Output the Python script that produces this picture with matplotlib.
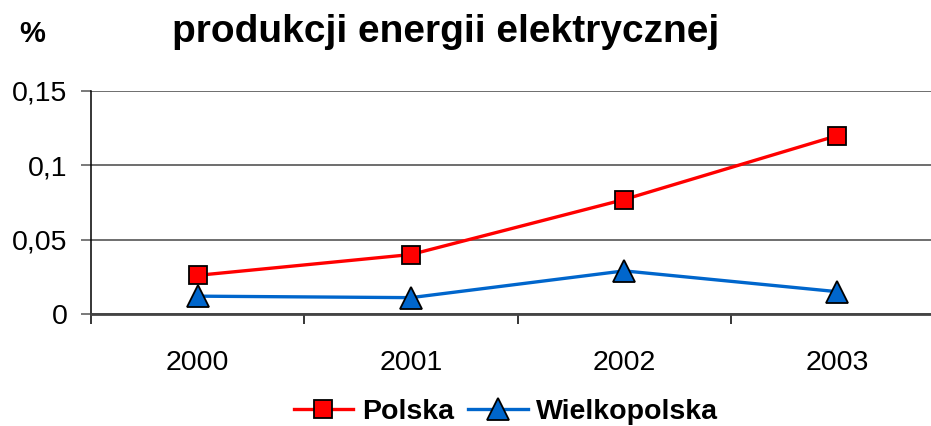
import matplotlib
matplotlib.use("Agg")
import matplotlib.pyplot as plt
from matplotlib.ticker import FixedLocator, NullFormatter

years = ["2000", "2001", "2002", "2003"]
polska = [0.026, 0.040, 0.077, 0.120]
wielkopolska = [0.012, 0.011, 0.029, 0.015]
yticks = [0, 0.05, 0.10, 0.15]
ytick_labels = ["0", "0,05", "0,1", "0,15"]

plt.rcParams['font.family'] = ['Liberation Sans', 'DejaVu Sans']

W, H = 931, 426
fig = plt.figure(figsize=(W / 100, H / 100), dpi=100)
ax = fig.add_axes([91 / W, 1 - 314 / H, 853 / W, (314 - 91) / H])

x = list(range(len(years)))
ax.plot(x, polska, color="#FF0000", lw=2.4, marker="s", ms=13,
        mfc="#FF0000", mec="black", mew=1.3, label="Polska", zorder=3, clip_on=False)
ax.plot(x, wielkopolska, color="#0066CC", lw=2.4, marker="^", ms=15.5,
        mfc="#0066CC", mec="black", mew=1.3, label="Wielkopolska", zorder=3, clip_on=False)

ax.set_xlim(-0.5, len(years) - 0.5)
ax.set_ylim(0, 0.15)
ax.set_yticks(yticks)
ax.set_yticklabels(ytick_labels, fontsize=20.5)
ax.yaxis.grid(True, color="#555555", lw=1.2)
ax.set_axisbelow(True)

ax.set_xticks(x)
ax.set_xticklabels(years, fontsize=20.5)
ax.tick_params(axis="x", which="major", length=0, pad=26)
ax.xaxis.set_minor_locator(FixedLocator([-0.5, 0.5, 1.5, 2.5, 3.5]))
ax.xaxis.set_minor_formatter(NullFormatter())
ax.tick_params(axis="x", which="minor", length=7, width=1.1, color="black", direction="out")
ax.tick_params(axis="y", length=7, width=1.1, color="#555555", pad=10)

for s in ["top", "right"]:
    ax.spines[s].set_visible(False)
ax.spines["left"].set_color("black")
ax.spines["left"].set_linewidth(1.1)
ax.spines["bottom"].set_color("#444444")
ax.spines["bottom"].set_linewidth(2)

fig.text(446 / W, 1 - 42 / H, "produkcji energii elektrycznej", ha="center",
         va="baseline", fontsize=28, fontweight="bold")
fig.text(19 / W, 1 - 42 / H, "%", ha="left", va="baseline", fontsize=21, fontweight="bold")

fig.legend(loc="center", bbox_to_anchor=(506 / W, 1 - 412 / H), ncol=2, frameon=False,
           prop={"size": 20.5, "weight": "bold"}, handlelength=2.1, handletextpad=0.3,
           columnspacing=0.5, borderpad=0)

fig.savefig("out.png", dpi=100)
